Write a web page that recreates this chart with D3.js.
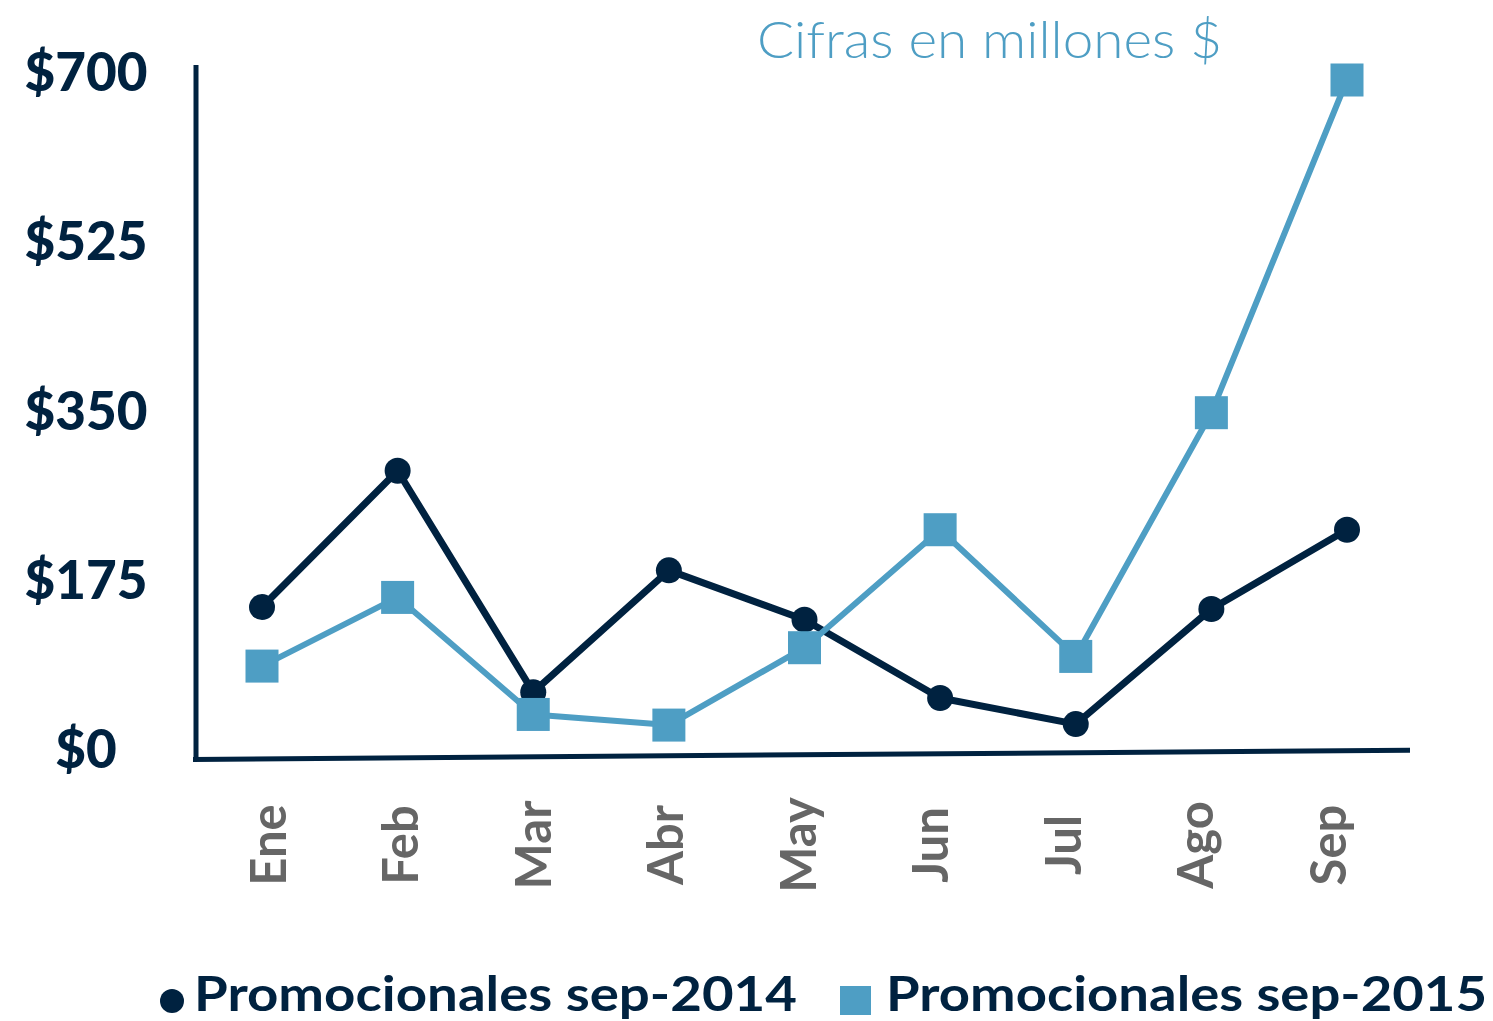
<!DOCTYPE html>
<html>
<head>
<meta charset="utf-8">
<script src="https://cdn.jsdelivr.net/npm/d3@7"></script>
<style>
  body { margin: 0; background: #fff; }
  svg { display: block; font-family: Lato, "Noto Sans", sans-serif; }
</style>
</head>
<body>
<svg id="chart" width="1493" height="1021"></svg>
<script>
// values in millions $
const months = ["Ene", "Feb", "Mar", "Abr", "May", "Jun", "Jul", "Ago", "Sep"];
const promo2014 = [155, 296, 67, 193, 142, 61, 34, 153, 235];
const promo2015 = [94, 165, 44, 33, 113, 235, 104, 356, 700];
const yTicks = [0, 175, 350, 525, 700];
const seriesNames = ["Promocionales sep-2014", "Promocionales sep-2015"];
const title = "Cifras en millones $";

const dark = "#002240", blue = "#4e9ec4", gray = "#666666";

const svg = d3.select("#chart");

const x = d3.scalePoint().domain(months).range([262, 1347]);
// month labels sit on a slightly tighter grid than the points
const xLab = d3.scalePoint().domain(months).range([268, 1328]);
const y = d3.scaleLinear().domain([0, 700]).range([757, 80]);

// axes (hand drawn look: base line is a little tilted)
svg.append("line")
  .attr("x1", 196).attr("x2", 196)
  .attr("y1", y(700) - 15).attr("y2", y(0) + 4)
  .attr("stroke", dark).attr("stroke-width", 5);
svg.append("line")
  .attr("x1", 193).attr("x2", 1410)
  .attr("y1", y(-2.5)).attr("y2", y(7))
  .attr("stroke", dark).attr("stroke-width", 5);

// y tick labels
svg.append("g").selectAll("text")
  .data(yTicks)
  .join("text")
  .attr("x", 86)
  .attr("y", d => y(d) - 8)
  .attr("dy", "0.36em")
  .attr("text-anchor", "middle")
  .style("font-size", "53px")
  .style("font-weight", 900)
  .style("fill", dark)
  .text(d => "$" + d);

// month labels
svg.append("g").selectAll("text")
  .data(months)
  .join("text")
  .attr("transform", d => `translate(${xLab(d)},845) rotate(-90)`)
  .attr("dy", "0.36em")
  .attr("text-anchor", "middle")
  .style("font-size", "49px")
  .style("font-weight", 700)
  .style("fill", gray)
  .text(d => d);

const line = d3.line().x((d, i) => x(months[i])).y(d => y(d));

// 2014 series
svg.append("path")
  .datum(promo2014)
  .attr("d", line)
  .attr("fill", "none")
  .attr("stroke", dark)
  .attr("stroke-width", 7)
  .attr("stroke-linejoin", "round");
svg.append("g").selectAll("circle")
  .data(promo2014)
  .join("circle")
  .attr("cx", (d, i) => x(months[i]))
  .attr("cy", d => y(d))
  .attr("r", 13)
  .attr("fill", dark);

// 2015 series
svg.append("path")
  .datum(promo2015)
  .attr("d", line)
  .attr("fill", "none")
  .attr("stroke", blue)
  .attr("stroke-width", 6)
  .attr("stroke-linejoin", "round");
const sq = 33;
svg.append("g").selectAll("rect")
  .data(promo2015)
  .join("rect")
  .attr("x", (d, i) => x(months[i]) - sq / 2)
  .attr("y", d => y(d) - sq / 2)
  .attr("width", sq)
  .attr("height", sq)
  .attr("fill", blue);

// title
svg.append("text")
  .attr("x", 757)
  .attr("y", 58)
  .attr("textLength", 465)
  .attr("lengthAdjust", "spacingAndGlyphs")
  .style("font-size", "51px")
  .style("font-weight", 300)
  .style("fill", blue)
  .text(title);

// legend
const lg = svg.append("g");
lg.append("circle").attr("cx", 172).attr("cy", 1001).attr("r", 12).attr("fill", dark);
lg.append("text")
  .attr("x", 194).attr("y", 1011)
  .attr("textLength", 603)
  .attr("lengthAdjust", "spacingAndGlyphs")
  .style("font-size", "47px").style("font-weight", 700).style("fill", dark)
  .text(seriesNames[0]);
lg.append("rect").attr("x", 840).attr("y", 986).attr("width", 31).attr("height", 29).attr("fill", blue);
lg.append("text")
  .attr("x", 886).attr("y", 1011)
  .attr("textLength", 601)
  .attr("lengthAdjust", "spacingAndGlyphs")
  .style("font-size", "47px").style("font-weight", 700).style("fill", dark)
  .text(seriesNames[1]);
</script>
</body>
</html>
